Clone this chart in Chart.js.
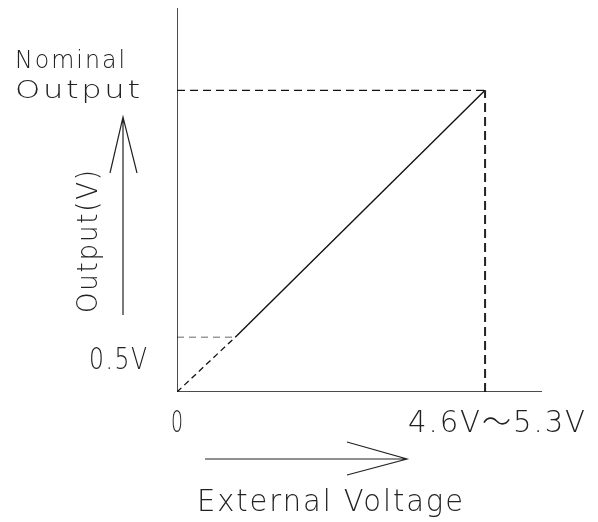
<!DOCTYPE html>
<html>
<head>
<meta charset="utf-8">
<script src="https://cdn.jsdelivr.net/npm/chart.js@4.4.1/dist/chart.umd.min.js"></script>
<style>
  body { margin: 0; background: #fff; }
  #wrap { width: 598px; height: 522px; }
</style>
</head>
<body>
<div id="wrap"><canvas id="curveChart" width="598" height="522"></canvas></div>
<script>
// Schematic output characteristic: output rises linearly with the external voltage
const X_MAX = 5.45;            // end of the external voltage axis
const Y_MAX = 3.5;             // top of the output axis
const riseX = [0, 0.87, 4.6];  // origin, 0.5V point, full-scale point
const riseY = [0, 0.5, 2.75];
const xTickLabels = ['0', '4.6V\u301C5.3V'];
const yTickLabels = ['0.5V', 'Nominal', 'Output'];
const xTitle = 'External Voltage';
const yTitle = 'Output(V)';

function pts(xs, ys) {
    return xs.map(function(x, i) { return { x: x, y: ys[i] }; });
}

function seg(data, color, width, dash) {
    return {
        data: data,
        showLine: true,
        borderColor: color,
        borderWidth: width,
        borderDash: dash || [],
        pointRadius: 0,
        fill: false
    };
}

const FONT = '"DejaVu Sans", "Noto Sans CJK JP", sans-serif';

// draw text squeezed horizontally to a target width (thin CAD-like lettering)
function fitText(ctx, text, x, y, width, size, align) {
    ctx.save();
    ctx.font = '200 ' + size + 'px ' + FONT;
    const gap = text.length > 1 ? Math.round(size * 0.07) : 0;
    ctx.letterSpacing = gap + 'px';
    const w = ctx.measureText(text).width - gap;
    const sx = width / w;
    const left = align === 'right' ? x - width : (align === 'center' ? x - width / 2 : x);
    ctx.translate(left, y);
    ctx.scale(sx, 1);
    ctx.textAlign = 'left';
    ctx.textBaseline = 'alphabetic';
    ctx.fillText(text, 0, 0);
    ctx.restore();
}

function arrow(ctx, x1, y1, x2, y2, h1x, h1y, h2x, h2y) {
    ctx.beginPath();
    ctx.moveTo(x1, y1);
    ctx.lineTo(x2, y2);
    ctx.moveTo(h1x, h1y);
    ctx.lineTo(x2, y2);
    ctx.lineTo(h2x, h2y);
    ctx.stroke();
}

const labelsPlugin = {
    id: 'labels',
    afterDraw: function(chart) {
        const ctx = chart.ctx;
        const xs = chart.scales.x, ys = chart.scales.y;
        ctx.save();
        ctx.fillStyle = '#222';
        ctx.strokeStyle = '#222';
        ctx.lineWidth = 1.2;

        // y-side labels
        const yFull = ys.getPixelForValue(riseY[2]);
        fitText(ctx, yTickLabels[1], 15, yFull - 22, 110, 24);
        fitText(ctx, yTickLabels[2], 15, yFull + 8, 125, 24);
        fitText(ctx, yTickLabels[0], 147, ys.getPixelForValue(riseY[1]) + 32, 58, 30, 'right');

        // x-side labels
        const x0 = xs.getPixelForValue(0);
        const base = xs.bottom + 40;
        fitText(ctx, xTickLabels[0], x0 - 6, base, 12, 30);
        fitText(ctx, xTickLabels[1], 408, base, 177, 30);
        fitText(ctx, xTitle, 197, base + 79, 266, 30);

        // rotated y title
        ctx.save();
        ctx.translate(97, 313);
        ctx.rotate(-Math.PI / 2);
        fitText(ctx, yTitle, 0, 0, 143, 29);
        ctx.restore();

        // direction arrows
        arrow(ctx, 123, 315, 123, 117, 110, 173, 137, 173);
        arrow(ctx, 205, 459, 407, 459, 347, 442, 347, 475);
        ctx.restore();
    }
};

new Chart(document.getElementById('curveChart'), {
    type: 'scatter',
    data: {
        datasets: [
            // axes
            seg(pts([0, 0], [0, Y_MAX]), '#111', 1.5),
            seg(pts([0, X_MAX], [0, 0]), '#111', 1.5),
            // guide lines
            seg(pts([0, riseX[1]], [riseY[1], riseY[1]]), '#9a9a9a', 1.5, [7, 5]),
            seg(pts([0, riseX[2]], [riseY[2], riseY[2]]), '#111', 1.3, [8, 5]),
            seg(pts([riseX[2], riseX[2]], [0, riseY[2]]), '#222', 2, [9, 5]),
            // characteristic
            seg(pts(riseX.slice(0, 2), riseY.slice(0, 2)), '#111', 1.3, [6, 4]),
            seg(pts(riseX.slice(1), riseY.slice(1)), '#111', 1.4)
        ]
    },
    options: {
        responsive: false,
        animation: false,
        layout: { padding: { left: 177, right: 56, top: 8, bottom: 130 } },
        plugins: { legend: { display: false }, tooltip: { enabled: false } },
        scales: {
            x: { type: 'linear', min: 0, max: X_MAX, display: false },
            y: { type: 'linear', min: 0, max: Y_MAX, display: false }
        }
    },
    plugins: [labelsPlugin]
});
</script>
</body>
</html>
